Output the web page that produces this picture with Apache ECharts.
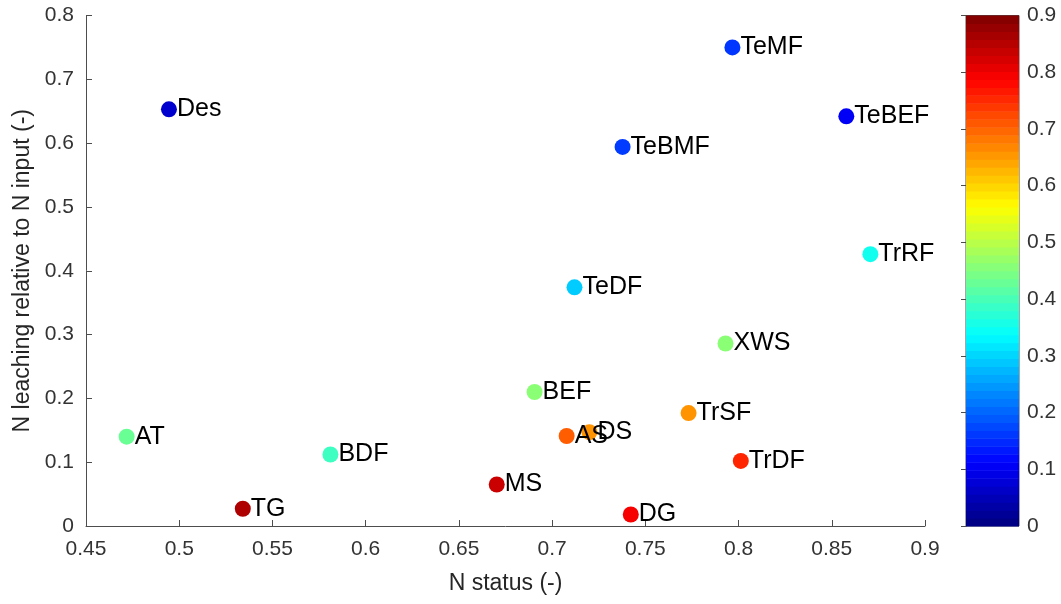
<!DOCTYPE html>
<html><head><meta charset="utf-8">
<script src="https://cdn.jsdelivr.net/npm/echarts@6/dist/echarts.min.js"></script>
<style>html,body{margin:0;padding:0;background:#fff}#c{width:1061px;height:604px}</style>
</head><body><div id="c"></div>
<script>
// ---- data ----
const pointNames = ['Des','TeMF','TeBEF','TeBMF','TrRF','TeDF','XWS','BEF','TrSF','AS','DS','AT','BDF','TG','MS','DG','TrDF'];
const nStatus    = [0.4945,0.7967,0.8578,0.7378,0.8707,0.7120,0.7930,0.6906,0.7732,0.7078,0.7200,0.4718,0.5811,0.5341,0.6703,0.7422,0.8012];
const nLeaching  = [0.653,0.750,0.642,0.594,0.426,0.374,0.286,0.210,0.177,0.141,0.147,0.140,0.112,0.027,0.065,0.018,0.102];
const colorValue = [0.063,0.155,0.10,0.16,0.35,0.29,0.46,0.46,0.66,0.71,0.66,0.43,0.39,0.865,0.84,0.80,0.76];
const xTickValues = [0.45,0.5,0.55,0.6,0.65,0.7,0.75,0.8,0.85,0.9];
const yTickValues = [0,0.1,0.2,0.3,0.4,0.5,0.6,0.7,0.8];
const cbTickValues = [0,0.1,0.2,0.3,0.4,0.5,0.6,0.7,0.8,0.9];
const xLabel = 'N status (-)';
const yLabel = 'N leaching relative to N input (-)';

// jet colormap (64 levels), as in MATLAB
function clamp(v){return Math.max(0,Math.min(1,v));}
const jetColors = [];
for (let k=0;k<64;k++){
  const t=(k+0.5)/64;
  const r=clamp(Math.min(4*t-1.5,-4*t+4.5));
  const g=clamp(Math.min(4*t-0.5,-4*t+3.5));
  const b=clamp(Math.min(4*t+0.5,-4*t+2.5));
  jetColors.push('rgb('+Math.round(r*255)+','+Math.round(g*255)+','+Math.round(b*255)+')');
}
const cbMin=0, cbMax=0.9;
const cbLevels = jetColors.map((c,k)=>[k]);

const points = pointNames.map((n,i)=>[nStatus[i], nLeaching[i], colorValue[i], n]);
const fmt = v => String(Number(v.toFixed(2)));
const FONT = 'Liberation Sans, Arial, Helvetica, sans-serif';
const AX = '#4d4d4d';

const chart = echarts.init(document.getElementById('c'), null, {renderer:'canvas'});
chart.setOption({
  animation:false,
  backgroundColor:'#fff',
  textStyle:{fontFamily:FONT},
  grid:[
    {left:86, right:136, top:15.5, bottom:78, containLabel:false},
    {left:966, width:53, top:15.5, bottom:78, show:true, borderColor:AX, borderWidth:1, backgroundColor:'transparent'}
  ],
  xAxis:[
    {gridIndex:0, type:'value', min:0.45, max:0.9, interval:0.05,
     name:xLabel, nameLocation:'middle', nameGap:46,
     nameTextStyle:{fontSize:23, color:'#262626', fontFamily:FONT},
     axisLine:{show:true, lineStyle:{color:AX, width:1}},
     axisTick:{show:true, inside:true, length:6, lineStyle:{color:AX}},
     axisLabel:{fontSize:21, color:'#333', margin:13, fontFamily:FONT, formatter:fmt},
     splitLine:{show:false}},
    {gridIndex:1, type:'value', min:0, max:1, show:false}
  ],
  yAxis:[
    {gridIndex:0, type:'value', min:0, max:0.8, interval:0.1,
     name:yLabel, nameLocation:'middle', nameGap:50, nameRotate:90,
     nameTextStyle:{fontSize:23, color:'#262626', fontFamily:FONT},
     axisLine:{show:true, lineStyle:{color:AX, width:1}},
     axisTick:{show:true, inside:true, length:6, lineStyle:{color:AX}},
     axisLabel:{fontSize:21, color:'#333', margin:12, fontFamily:FONT, formatter:fmt},
     splitLine:{show:false}},
    {gridIndex:1, type:'value', min:cbMin, max:cbMax, interval:0.1, position:'right',
     axisLine:{show:true, lineStyle:{color:AX, width:1}},
     axisTick:{show:true, inside:true, length:5, lineStyle:{color:AX}},
     axisLabel:{fontSize:21, color:'#333', margin:8, fontFamily:FONT, formatter:fmt},
     splitLine:{show:false}}
  ],
  visualMap:{type:'continuous', show:false, seriesIndex:0, dimension:2, min:cbMin, max:cbMax, inRange:{color:jetColors}},
  series:[
    {type:'scatter', xAxisIndex:0, yAxisIndex:0, symbol:'circle', symbolSize:16,
     data:points,
     itemStyle:{opacity:1},
     label:{show:true, position:'right', distance:0, fontSize:25, color:'#000', fontFamily:FONT,
       formatter:p=>p.value[3]},
     z:3},
    {type:'custom', xAxisIndex:1, yAxisIndex:1, data:cbLevels, silent:true, z:1,
     renderItem:function(params, api){
       const k = api.value(0);
       const step = (cbMax-cbMin)/jetColors.length;
       const p0 = api.coord([0, cbMin + k*step]);
       const p1 = api.coord([1, cbMin + (k+1)*step]);
       return {type:'rect', shape:{x:p0[0], y:p1[1], width:p1[0]-p0[0], height:p0[1]-p1[1]+0.6},
               style:{fill:jetColors[k]}};
     }}
  ]
});
</script></body></html>
